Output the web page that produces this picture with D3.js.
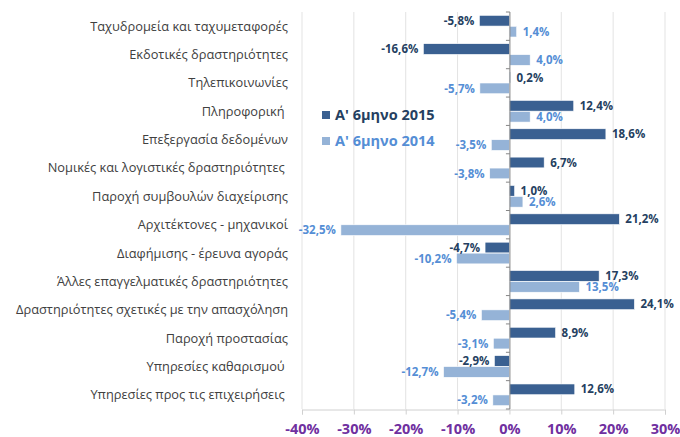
<!DOCTYPE html>
<html>
<head>
<meta charset="utf-8">
<script src="https://cdn.jsdelivr.net/npm/d3@7"></script>
<style>
	body{margin:0;background:#fff;}
	svg{font-family:"Open Sans","Noto Sans",sans-serif;}
</style>
</head>
<body>
<svg id="chart" width="680" height="437"></svg>
<script>
//data
var categories = [
	'Ταχυδρομεία και ταχυμεταφορές',
	'Εκδοτικές δραστηριότητες',
	'Τηλεπικοινωνίες',
	'Πληροφορική\u00a0',
	'Επεξεργασία δεδομένων',
	'Νομικές και λογιστικές δραστηριότητες\u00a0',
	'Παροχή συμβουλών διαχείρισης',
	'Αρχιτέκτονες - μηχανικοί',
	'Διαφήμισης - έρευνα αγοράς',
	'Άλλες επαγγελματικές δραστηριότητες',
	'Δραστηριότητες σχετικές με την απασχόληση',
	'Παροχή προστασίας',
	'Υπηρεσίες καθαρισμού\u00a0',
	'Υπηρεσίες προς τις επιχειρήσεις\u00a0'
];
var values2015 = [-5.8, -16.6, 0.2, 12.4, 18.6, 6.7, 1.0, 21.2, -4.7, 17.3, 24.1, 8.9, -2.9, 12.6];
var values2014 = [1.4, 4.0, -5.7, 4.0, -3.5, -3.8, 2.6, -32.5, -10.2, 13.5, -5.4, -3.1, -12.7, -3.2];
var seriesNames = ["Α' 6μηνο 2015", "Α' 6μηνο 2014"];
var xTicks = [-40, -30, -20, -10, 0, 10, 20, 30];

var params = {
	left: 302, right: 665, top: 12, bottom: 409,
	dark: '#3A6091', light: '#95B3D7',
	darkText: '#253F61', lightText: '#558ED5'
};

var svg = d3.select('#chart');

var x = d3.scaleLinear().domain([-40, 30]).range([params.left, params.right]);
var y = d3.scaleBand().domain(d3.range(categories.length))
	.range([params.top, params.bottom]).paddingInner(0.22).paddingOuter(0.11);
var ySub = d3.scaleBand().domain([0, 1]).range([0, y.bandwidth()]).padding(0.02);

//gridlines
svg.append('g').selectAll('line').data(xTicks).enter()
	.append('line')
		.attr('x1', function(d){return x(d)})
		.attr('x2', function(d){return x(d)})
		.attr('y1', params.top)
		.attr('y2', params.bottom)
		.attr('stroke', '#E3E3E3')
		.attr('stroke-width', 1);

//bottom axis
var xAxis = svg.append('g')
	.attr('transform', 'translate(0,' + (params.bottom + 0.5) + ')')
	.call(d3.axisBottom(x).tickValues(xTicks).tickSize(5).tickPadding(9)
		.tickFormat(function(d){return d + '%'}));
xAxis.select('.domain').attr('stroke', '#D0D0D0');
xAxis.selectAll('.tick line').attr('stroke', '#D0D0D0');
xAxis.selectAll('text')
	.attr('fill', '#7030A0')
	.style('font-size', '14.5px')
	.style('font-weight', 'bold')
	.style('font-family', '"Open Sans", sans-serif');

//bars
var rows = categories.map(function(c, i){
	return {i: i, vals: [values2015[i], values2014[i]]};
});
var colors = [params.dark, params.light];
var textColors = [params.darkText, params.lightText];

var groups = svg.append('g').selectAll('g').data(rows).enter()
	.append('g')
	.attr('transform', function(d){return 'translate(0,' + y(d.i) + ')'});

groups.selectAll('rect').data(function(d){return d.vals}).enter()
	.append('rect')
		.attr('x', function(v){return Math.min(x(0), x(v))})
		.attr('y', function(v, j){return ySub(j)})
		.attr('width', function(v){return Math.abs(x(v) - x(0))})
		.attr('height', ySub.bandwidth())
		.attr('fill', function(v, j){return colors[j]})
		.attr('stroke', '#fff')
		.attr('stroke-width', 0.6);

groups.selectAll('text').data(function(d){return d.vals}).enter()
	.append('text')
		.attr('x', function(v){return v >= 0 ? x(v) + 6 : x(v) - 5})
		.attr('y', function(v, j){return ySub(j) + ySub.bandwidth()/2})
		.attr('dy', '0.36em')
		.attr('text-anchor', function(v){return v >= 0 ? 'start' : 'end'})
		.attr('fill', function(v, j){return textColors[j]})
		.style('font-size', '11.5px')
		.style('font-weight', 'bold')
		.text(function(v){return d3.format('.1f')(v).replace('.', ',').replace('−', '-') + '%'});

//category axis on zero
var yAxisG = svg.append('g').attr('transform', 'translate(' + (x(0) + 0.5) + ',0)');
yAxisG.append('line')
	.attr('y1', params.top).attr('y2', params.bottom)
	.attr('stroke', '#868686');
yAxisG.selectAll('.tk').data(d3.range(categories.length + 1)).enter()
	.append('line')
		.attr('x1', -4).attr('x2', 0)
		.attr('y1', function(d){return params.top + d*(params.bottom - params.top)/categories.length})
		.attr('y2', function(d){return params.top + d*(params.bottom - params.top)/categories.length})
		.attr('stroke', '#868686');

//category labels at the left
svg.append('g').selectAll('text').data(categories).enter()
	.append('text')
		.attr('x', 288)
		.attr('y', function(d, i){return y(i) + y.bandwidth()/2})
		.attr('dy', '0.35em')
		.attr('text-anchor', 'end')
		.attr('fill', '#404040')
		.style('font-size', '12.8px')
		.text(function(d){return d});

//legend
var legend = svg.append('g').selectAll('g').data(seriesNames).enter()
	.append('g')
	.attr('transform', function(d, i){return 'translate(322,' + (115 + i*26) + ')'});
legend.append('rect')
	.attr('x', 0).attr('y', -4).attr('width', 8).attr('height', 8)
	.attr('fill', function(d, i){return colors[i]});
legend.append('text')
	.attr('x', 13).attr('dy', '0.36em')
	.attr('fill', function(d, i){return i == 0 ? params.darkText : params.lightText})
	.style('font-size', '14.5px')
	.style('font-weight', 'bold')
	.text(function(d){return d});
</script>
</body>
</html>
